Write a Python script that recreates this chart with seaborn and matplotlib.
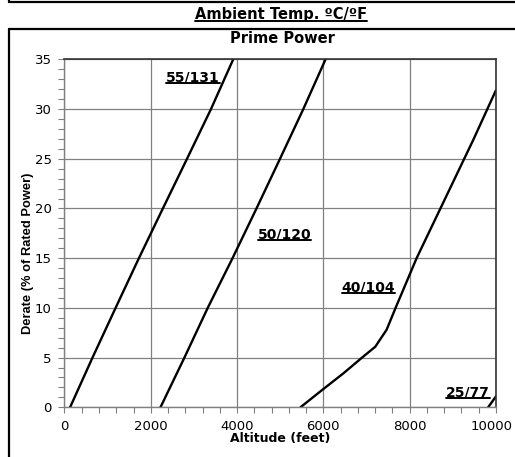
import numpy as np
import pandas as pd
import matplotlib
matplotlib.use('Agg')
import matplotlib.pyplot as plt
from matplotlib.lines import Line2D
from matplotlib.ticker import MultipleLocator
from matplotlib.transforms import ScaledTranslation
import seaborn as sns

# Derate curves (altitude in feet, derate in %)
alt_55 = [130, 650, 1185, 1725, 2280, 2840, 3395, 3910]
derate_55 = [0, 5, 10, 15, 20, 25, 30, 35]

alt_50 = [2225, 2780, 3320, 3895, 4450, 4995, 5535, 6050]
derate_50 = [0, 5, 10, 15, 20, 25, 30, 35]

alt_40 = [5470, 5960, 6460, 6925, 7205, 7466, 7674, 8161, 9474, 10000]
derate_40 = [0, 1.7, 3.4, 5.1, 6.1, 7.8, 10, 15, 26.9, 31.9]

alt_25 = [9820, 10000]
derate_25 = [0, 1.1]

curve_labels = ['55/131', '50/120', '40/104', '25/77']
label_alt = [2352, 4477, 6424, 8834]
label_derate = [32.8, 17.0, 11.65, 1.09]

sns.set_style('white')
plt.rcParams['font.family'] = ['DejaVu Sans']
plt.rcParams['text.color'] = 'black'
plt.rcParams['axes.labelcolor'] = 'black'

fig = plt.figure(figsize=(5.15, 4.57), dpi=100)
ax = fig.add_axes([0.1252, 0.1088, 0.963 - 0.1252, 0.870 - 0.1088])

for xs, ys in [(alt_55, derate_55), (alt_50, derate_50), (alt_40, derate_40), (alt_25, derate_25)]:
    sns.lineplot(x=xs, y=ys, sort=False, color='black', linewidth=1.7, ax=ax, estimator=None)

ax.set_xlim(0, 10000)
ax.set_ylim(0, 35)
ax.xaxis.set_major_locator(MultipleLocator(2000))
ax.xaxis.set_minor_locator(MultipleLocator(400))
ax.yaxis.set_major_locator(MultipleLocator(5))
ax.yaxis.set_minor_locator(MultipleLocator(1))
ax.grid(True, which='major', color='#808080', linewidth=0.9)
ax.set_axisbelow(True)

ax.tick_params(axis='x', which='both', direction='out', length=4, width=0.8,
               color='#808080', labelcolor='black', bottom=True, labelsize=9.5, pad=5)
ax.tick_params(axis='y', which='both', direction='out', length=4, width=0.8,
               color='#808080', labelcolor='black', left=True, labelsize=9.5, pad=5.2)

for side in ['left', 'bottom']:
    ax.spines[side].set_color('#808080')
    ax.spines[side].set_linewidth(1)
for side in ['top', 'right']:
    ax.spines[side].set_color('#333333')
    ax.spines[side].set_linewidth(1.2)

ax.set_xlabel('Altitude (feet)', fontsize=9, fontweight='bold', va='baseline')
ax.xaxis.set_label_coords(0.5, -0.0989)
ax.set_ylabel('Derate (% of Rated Power)', fontsize=9.25, fontweight='bold',
              family='Liberation Sans', va='baseline')
ax.yaxis.set_label_coords(-0.0783, 0.4434)

curve_texts = []
for lab, lx, ly in zip(curve_labels, label_alt, label_derate):
    t = ax.text(lx, ly, lab, fontsize=10, fontweight='bold', ha='left', va='baseline')
    curve_texts.append(t)

title_top = fig.text(0.5456, 1 - 19 / 457, 'Ambient Temp. \u00baC/\u00baF', fontsize=10.5,
                     fontweight='bold', ha='center', va='baseline')
fig.text(0.5476, 1 - 43 / 457, 'Prime Power', fontsize=10.5, fontweight='bold',
         ha='center', va='baseline')

# underline the bold labels
fig.canvas.draw()
renderer = fig.canvas.get_renderer()
inv = fig.transFigure.inverted()
for t in curve_texts + [title_top]:
    bb = t.get_window_extent(renderer)
    base = t.get_transform().transform(t.get_position())[1]
    y = base - 2
    p0 = inv.transform((bb.x0, y))
    p1 = inv.transform((bb.x1, y))
    fig.add_artist(Line2D([p0[0], p1[0]], [p0[1], p1[1]], color='black', linewidth=1.4))

# keep the 10000 label inside the page, like the original
for tick in ax.xaxis.get_major_ticks():
    if abs(tick.get_loc() - 10000) < 1:
        lbl = tick.label1
        lbl.set_transform(lbl.get_transform() + ScaledTranslation(-4 / 100, 0, fig.dpi_scale_trans))

# outer frame lines of the page
W, H = 515, 457
def page_line(xs, ys):
    fig.add_artist(Line2D([x / W for x in xs], [1 - y / H for y in ys], color='black', linewidth=1.6))

page_line([9, 515], [2, 2])
page_line([9, 9], [0, 2])
page_line([9, 515], [29, 29])
page_line([9, 9], [29, 457])

fig.savefig('out.png', dpi=100)
